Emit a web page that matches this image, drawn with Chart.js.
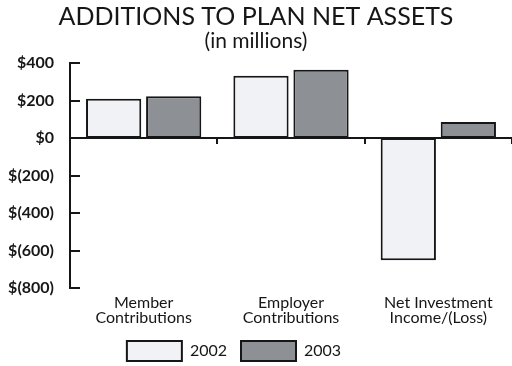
<!DOCTYPE html>
<html>
<head>
<meta charset="utf-8">
<script src="https://cdn.jsdelivr.net/npm/chart.js@4/dist/chart.umd.min.js"></script>
<style>
  html, body { margin: 0; padding: 0; background: #ffffff; }
  #c { display: block; }
</style>
</head>
<body>
<canvas id="c" width="512" height="366"></canvas>
<script>
// Plan additions, in millions of dollars
const categories = [
  ['Member', 'Contributions'],
  ['Employer', 'Contributions'],
  ['Net Investment', 'Income/(Loss)']
];
const seriesNames = ['2002', '2003'];
const values2002 = [210, 332, -652];
const values2003 = [223, 364, 85];
const yTickMin = -800;
const yTickMax = 400;
const yTickStep = 200;

const INK = '#161616';
const FONT = 'Lato, "Open Sans", sans-serif';

function money(v) {
  return v < 0 ? '$(' + Math.abs(v) + ')' : '$' + v;
}

// Short tick marks drawn on the inner side of the value axis
const innerTicks = {
  id: 'innerTicks',
  afterDraw(chart) {
    const s = chart.scales.y;
    const ctx = chart.ctx;
    ctx.save();
    ctx.strokeStyle = INK;
    ctx.lineWidth = 2;
    s.ticks.forEach(t => {
      const py = Math.round(s.getPixelForValue(t.value));
      ctx.beginPath();
      ctx.moveTo(s.right, py);
      ctx.lineTo(s.right + 10, py);
      ctx.stroke();
    });
    ctx.restore();
  }
};

// Slide the legend row a little left of centre and up towards the labels
const LEGEND_SHIFT_X = -22;
const LEGEND_SHIFT_Y = -3;
const legendNudge = {
  id: 'legendNudge',
  afterLayout(chart) {
    const l = chart.legend;
    if (!l) return;
    l.left += LEGEND_SHIFT_X; l.right += LEGEND_SHIFT_X;
    l.top += LEGEND_SHIFT_Y; l.bottom += LEGEND_SHIFT_Y;
  }
};

new Chart(document.getElementById('c'), {
  type: 'bar',
  data: {
    labels: categories,
    datasets: [
      {
        label: seriesNames[0],
        data: values2002,
        backgroundColor: '#f1f2f6',
        borderColor: INK,
        borderWidth: 2,
        borderSkipped: false
      },
      {
        label: seriesNames[1],
        data: values2003,
        backgroundColor: '#8d9196',
        borderColor: INK,
        borderWidth: 2,
        borderSkipped: false
      }
    ]
  },
  options: {
    responsive: false,
    animation: false,
    devicePixelRatio: 1,
    categoryPercentage: 0.815,
    barPercentage: 0.92,
    layout: { padding: { top: 0, right: 0, bottom: 0, left: 0 } },
    plugins: {
      title: {
        display: true,
        text: 'ADDITIONS TO PLAN NET ASSETS',
        color: INK,
        font: { family: FONT, size: 25, weight: 'normal', lineHeight: 1 },
        padding: { top: 4, bottom: 0 }
      },
      subtitle: {
        display: true,
        text: '(in millions)',
        color: INK,
        font: { family: FONT, size: 21, weight: 'normal', lineHeight: 1 },
        padding: { top: 2, bottom: 11 }
      },
      legend: {
        position: 'bottom',
        maxHeight: 36,
        labels: {
          color: INK,
          font: { family: FONT, size: 16 },
          boxWidth: 55,
          boxHeight: 20,
          padding: 14
        }
      },
      tooltip: { enabled: false }
    },
    scales: {
      x: {
        type: 'category',
        grid: { display: false, drawTicks: false },
        border: { display: false },
        afterFit(scale) { scale.height = 42; },
        ticks: {
          color: INK,
          font: { family: FONT, size: 16, lineHeight: 0.96 },
          padding: 7,
          maxRotation: 0,
          autoSkip: false
        }
      },
      x2: {
        type: 'category',
        position: { y: 0 },
        offset: true,
        grid: {
          offset: true,
          drawOnChartArea: false,
          drawTicks: true,
          tickLength: 5,
          color: INK,
          lineWidth: 2
        },
        border: { display: true, color: INK, width: 2 },
        ticks: { display: false }
      },
      y: {
        min: yTickMin,
        max: yTickMax,
        grid: { display: false },
        border: { display: true, color: INK, width: 2 },
        afterFit(scale) { scale.width = 70; },
        ticks: {
          stepSize: yTickStep,
          color: INK,
          padding: 8,
          font: { family: FONT, size: 16, weight: 'bold' },
          callback: (v) => money(v)
        }
      }
    }
  },
  plugins: [innerTicks, legendNudge]
});
</script>
</body>
</html>
